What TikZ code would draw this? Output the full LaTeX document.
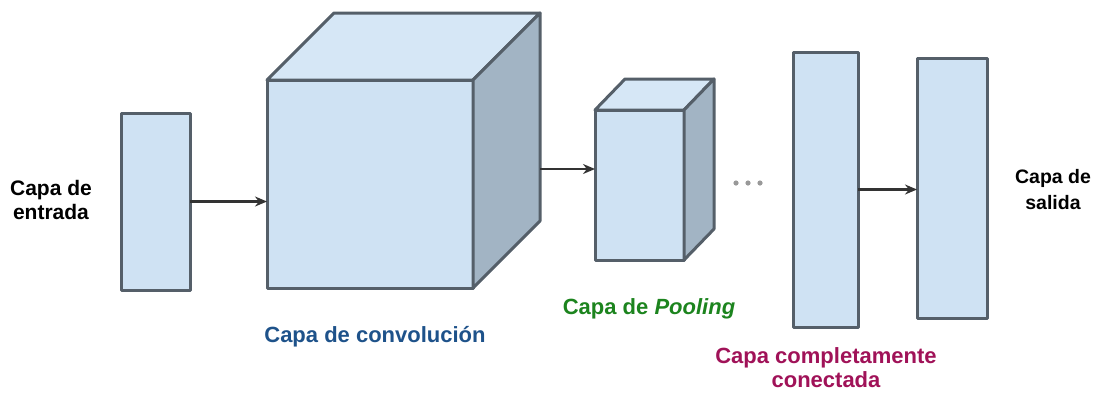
\documentclass[tikz,border=0pt]{standalone}
\usepackage{fontspec}
\setmainfont{Liberation Sans}
\usepackage{xcolor}
\usetikzlibrary{positioning, calc, arrows.meta}

\definecolor{faceblue}{RGB}{207,226,243}
\definecolor{topblue}{RGB}{214,231,246}
\definecolor{sideblue}{RGB}{162,180,196}
\definecolor{edgegray}{RGB}{85,95,105}
\definecolor{convblue}{RGB}{30,82,138}
\definecolor{poolgreen}{RGB}{28,132,30}
\definecolor{fcred}{RGB}{160,18,88}

\begin{document}
\begin{tikzpicture}[x=1pt, y=-1pt, >=stealth,
    layer/.style={draw=edgegray, line width=3pt, fill=faceblue, line join=round,
        inner sep=0pt, outer sep=0pt},
    side/.style={draw=edgegray, line width=3pt, fill=sideblue, line join=round},
    lid/.style={draw=edgegray, line width=3pt, fill=topblue, line join=round},
    link/.style={draw=black!80, line width=2.4pt, -{Stealth[length=12pt, width=10pt]}},
    caption/.style={font=\fontsize{22}{24}\selectfont\bfseries, align=center}]

    \useasboundingbox (0,0) rectangle (1101,392);

    % --- Capa de entrada ---
    \node[layer, minimum width=69pt, minimum height=177pt] (inp) at (155.5,201.5) {};
    \node[caption, font=\fontsize{21}{24}\selectfont\bfseries] (inplabel) at (51,200) {Capa de\\entrada};

    % --- Capa de convolucion (cube) ---
    \node[layer, minimum width=206pt, minimum height=208pt] (conv) at (370,184) {};
    \draw[lid] (conv.north west) -- ($(conv.north west)+(67,-67)$)
        -- ($(conv.north east)+(67,-67)$) -- (conv.north east) -- cycle;
    \draw[side] (conv.north east) -- ($(conv.north east)+(67,-67)$)
        -- ($(conv.south east)+(67,-67)$) -- (conv.south east) -- cycle;
    \node[caption, text=convblue] (convlabel) at (375,337) {Capa de convolución};

    % --- Capa de Pooling (box) ---
    \node[layer, minimum width=89pt, minimum height=150pt] (pool) at (639.5,185) {};
    \draw[lid] (pool.north west) -- ($(pool.north west)+(30,-31)$)
        -- ($(pool.north east)+(30,-31)$) -- (pool.north east) -- cycle;
    \draw[side] (pool.north east) -- ($(pool.north east)+(30,-31)$)
        -- ($(pool.south east)+(30,-31)$) -- (pool.south east) -- cycle;
    \node[caption, text=poolgreen] (poollabel) at (649,309) {Capa de \textit{Pooling}};

    % --- dots ---
    \foreach \x in {736,748,760}
        \fill[black!40] (\x,183) circle (2.6pt);

    % --- Capa completamente conectada ---
    \node[layer, minimum width=65pt, minimum height=275pt] (fc) at (825.5,189.5) {};
    \node[caption, text=fcred] (fclabel) at (826,368) {Capa completamente\\conectada};

    % --- Capa de salida ---
    \node[layer, minimum width=70pt, minimum height=260pt] (out) at (952,188) {};
    \node[caption, font=\fontsize{19.5}{26}\selectfont\bfseries] (outlabel) at (1053,190) {Capa de\\salida};

    % --- Connections ---
    \draw[link] (inp.east) -- (inp.east -| conv.west);
    \coordinate (convout) at ($(conv.east)+(67,-15)$);
    \draw[link] (convout) -- (convout -| pool.west);
    \draw[link] (fc.east) -- (fc.east -| out.west);

\end{tikzpicture}
\end{document}
